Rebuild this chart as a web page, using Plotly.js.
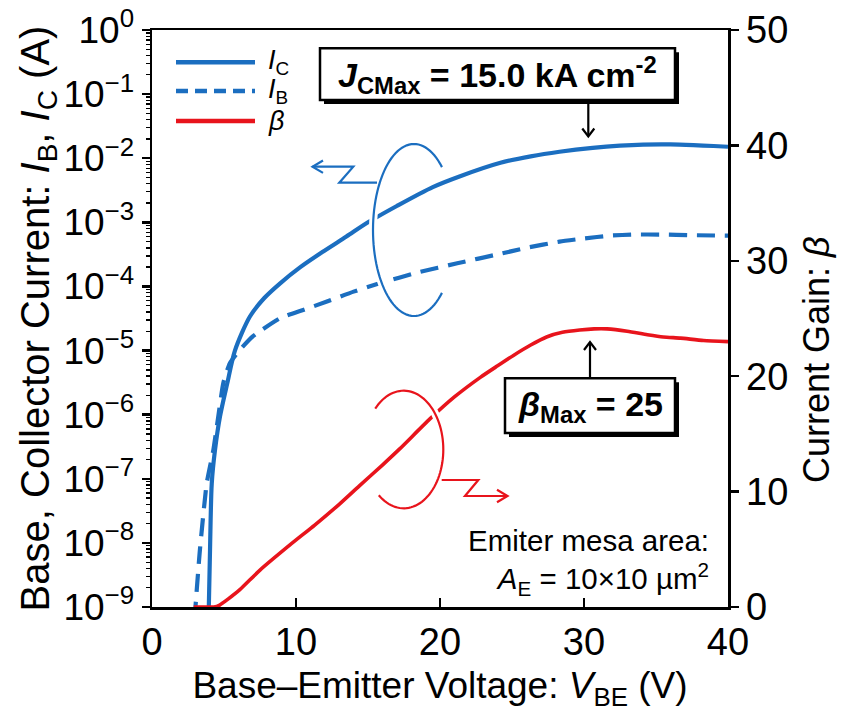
<!DOCTYPE html>
<html><head><meta charset="utf-8">
<script src="https://cdn.plot.ly/plotly-3.0.1.min.js"></script>
<style>html,body{margin:0;padding:0;background:#fff;}#chart{width:843px;height:719px;}</style>
</head><body><div id="chart"></div>
<script>
// ---- data ----
const vIC = [3.9, 4.03, 4.15, 4.375, 4.72, 5.23, 5.76, 6.8, 7.8, 8.9, 10.3, 11.8, 13.5, 15, 17, 19.5, 21.4, 24.2, 26.3, 28.3, 30.6, 32.5, 34.1, 36, 37.6, 39, 40];
const iC  = [3.2e-10, 7.9e-9, 8.5e-8, 2.8e-7, 9.3e-7, 3.1e-6, 1.0e-5, 3.4e-5, 6.6e-5, 1.12e-4, 2.0e-4, 3.4e-4, 6.0e-4, 1.0e-3, 1.8e-3, 3.55e-3, 5.25e-3, 8.5e-3, 1.07e-2, 1.26e-2, 1.45e-2, 1.57e-2, 1.63e-2, 1.64e-2, 1.60e-2, 1.55e-2, 1.51e-2];
const vIB = [2.95, 3.33, 3.8, 4.26, 4.6, 4.95, 5.4, 6.1, 7.0, 8.9, 10.5, 12.1, 14, 15.8, 18.5, 21.2, 24, 26, 28.3, 30, 31.8, 33.5, 35.3, 37.5, 40];
const iB  = [6.3e-10, 7.9e-9, 8.5e-8, 2.8e-7, 9.3e-7, 3.1e-6, 6.3e-6, 1.02e-5, 1.66e-5, 3.2e-5, 4.3e-5, 5.75e-5, 8.3e-5, 1.12e-4, 1.66e-4, 2.3e-4, 3.16e-4, 4.0e-4, 5.0e-4, 5.6e-4, 6.2e-4, 6.45e-4, 6.45e-4, 6.3e-4, 6.2e-4];
const vBeta = [2.9, 3.5, 4.3, 4.7, 5.3, 6.1, 7.5, 9.6, 11.3, 13, 14.4, 16, 17.2, 19.3, 21, 22.8, 24, 25.1, 26.3, 27.4, 28.5, 29.7, 30.7, 31.6, 33, 34.4, 35.5, 36.7, 38.3, 40];
const beta  = [0, 0, 0, 0.17, 0.7, 1.5, 3.2, 5.4, 7.1, 8.9, 10.5, 12.3, 13.7, 16.3, 18.2, 19.9, 20.9, 21.8, 22.7, 23.4, 23.8, 24.0, 24.1, 24.1, 23.9, 23.6, 23.4, 23.3, 23.1, 23.0];
const yTickVals = [1e0, 1e-1, 1e-2, 1e-3, 1e-4, 1e-5, 1e-6, 1e-7, 1e-8, 1e-9];
const yTickText = ['10<sup>0</sup>', '10<sup>−1</sup>', '10<sup>−2</sup>', '10<sup>−3</sup>', '10<sup>−4</sup>', '10<sup>−5</sup>', '10<sup>−6</sup>', '10<sup>−7</sup>', '10<sup>−8</sup>', '10<sup>−9</sup>'];

// ---- styling / layout ----
const BLUE = '#1B6EC0', RED = '#E8141C';
const FONT = 'Liberation Sans, Arial, sans-serif';
const L = 152, T = 30, W = 576, H = 577;
const px = x => (x - L) / W;
const py = y => (T + H - y) / H;
function poly(pts) { return 'M' + pts.map(p => px(p[0]).toFixed(5) + ',' + py(p[1]).toFixed(5)).join('L'); }
function arc(cx, cy, rx, ry, a0, a1) {
  const pts = []; const n = 80;
  for (let i = 0; i <= n; i++) { const t = (a0 + (a1 - a0) * i / n) * Math.PI / 180; pts.push([cx + rx * Math.cos(t), cy + ry * Math.sin(t)]); }
  return poly(pts);
}
const P = (path, color, width, dash) => ({type: 'path', xref: 'paper', yref: 'paper', path: path, layer: 'above', line: {color: color, width: width, dash: dash || 'solid'}});
const R = (x0, y0, x1, y1, fill, lc, lw) => ({type: 'rect', xref: 'paper', yref: 'paper', x0: px(x0), x1: px(x1), y0: py(y1), y1: py(y0), layer: 'above', fillcolor: fill, line: {color: lc, width: lw}});

const blueArc = arc(414, 230, 41, 86, -47, -313);
const redArc = arc(403.7, 449.5, 39.6, 58.8, -136, 129);
const shapes = [
  P(blueArc, 'white', 8), P(blueArc, BLUE, 2.2),
  P(redArc, 'white', 8), P(redArc, RED, 2.2),
  P(poly([[377, 182.7], [339.3, 182.7], [353.3, 166.7], [312.5, 166.7]]), BLUE, 2.2),
  P(poly([[323, 160.5], [312.5, 166.7], [323, 172.9]]), BLUE, 2.2),
  P(poly([[441.7, 480], [478.3, 480], [465, 496], [507.5, 496]]), RED, 2.2),
  P(poly([[497, 489.8], [507.5, 496], [497, 502.2]]), RED, 2.2),
  // annotation boxes with shadow
  R(324, 52.3, 679, 104, 'black', 'black', 0), R(320, 48.3, 675, 100, 'white', 'black', 2.5),
  R(509, 382.3, 679, 437, 'black', 'black', 0), R(505, 378.3, 675, 433, 'white', 'black', 2.5),
  // pointer arrows
  P(poly([[588.3, 101], [588.3, 136]]), 'black', 2.2),
  P(poly([[582.3, 128.5], [588.3, 136.5], [594.3, 128.5]]), 'black', 2.2),
  P(poly([[590, 377], [590, 342.5]]), 'black', 2.2),
  P(poly([[584, 350], [590, 342], [596, 350]]), 'black', 2.2),
  // legend samples
  P(poly([[176, 62.3], [255, 62.3]]), BLUE, 4.5),
  P(poly([[176, 91], [255, 91]]), BLUE, 4.5, '12px,7px'),
  P(poly([[176, 121], [255, 121]]), RED, 4.5)
];

const ann = (x, y, text, size, xanchor, extra) => Object.assign({xref: 'paper', yref: 'paper', x: px(x), y: py(y), text: text, showarrow: false, xanchor: xanchor || 'center', yanchor: 'middle', font: {family: FONT, size: size, color: 'black'}}, extra || {});
const annotations = [
  ann(497.5, 74.5, '<b><i>J</i><sub>CMax</sub> = 15.0 kA cm<sup>-2</sup></b>', 34),
  ann(590, 406, '<b><i>β</i><sub>Max</sub> = 25</b>', 34),
  ann(266, 62, '<i>I</i><sub>C</sub>', 27, 'left'),
  ann(266, 91, '<i>I</i><sub>B</sub>', 27, 'left'),
  ann(266, 121, '<i>β</i>', 27, 'left'),
  ann(711, 562, 'Emiter mesa area:<br><i>A</i><sub>E</sub> = 10×10 µm<sup>2</sup>', 29.5, 'right', {align: 'right'}),
  ann(816, 360, 'Current Gain: <i>β</i>', 36, 'center', {textangle: -90})
];

const traces = [
  {x: vIB, y: iB, mode: 'lines', line: {color: BLUE, width: 4.2, dash: '18px,10px', shape: 'spline', smoothing: 0.5}, yaxis: 'y', name: 'IB'},
  {x: vIC, y: iC, mode: 'lines', line: {color: BLUE, width: 4.2, shape: 'spline', smoothing: 0.8}, yaxis: 'y', name: 'IC'},
  {x: vBeta, y: beta, mode: 'lines', line: {color: RED, width: 3.6, shape: 'spline', smoothing: 0.6}, yaxis: 'y2', name: 'beta'}
];

const layout = {
  width: 843, height: 719,
  margin: {l: L, r: 843 - L - W, t: T, b: 719 - T - H},
  paper_bgcolor: 'white', plot_bgcolor: 'white',
  showlegend: false,
  font: {family: FONT, size: 38, color: 'black'},
  xaxis: {range: [0, 40], dtick: 10, tick0: 0, ticks: 'inside', ticklen: 9, tickwidth: 2.5, tickcolor: 'black',
    showline: true, linecolor: 'black', linewidth: 2.5, mirror: true, showgrid: false, zeroline: false,
    tickfont: {family: FONT, size: 38},
    title: {text: 'Base–Emitter Voltage: <i>V</i><sub>BE</sub> (V)', font: {family: FONT, size: 37}, standoff: 10}},
  yaxis: {type: 'log', range: [-9, 0], tickmode: 'array', tickvals: yTickVals, ticktext: yTickText,
    ticks: 'outside', ticklen: 8, tickwidth: 2.5, tickcolor: 'black',
    minor: {ticks: 'outside', ticklen: 4, tickwidth: 1.3, tickcolor: 'black', dtick: 'D1', showgrid: false},
    showline: true, linecolor: 'black', linewidth: 2.5, showgrid: false, zeroline: false,
    tickfont: {family: FONT, size: 37},
    title: {text: 'Base, Collector Current: <i>I</i><sub>B</sub>, <i>I</i><sub>C</sub> (A)', font: {family: FONT, size: 40}, standoff: 2}},
  yaxis2: {overlaying: 'y', side: 'right', range: [0, 50], dtick: 10, tick0: 0,
    ticks: 'outside', ticklen: 8, tickwidth: 2.5, tickcolor: 'black',
    showline: true, linecolor: 'black', linewidth: 2.5, showgrid: false, zeroline: false,
    tickfont: {family: FONT, size: 38}},
  shapes: shapes,
  annotations: annotations
};
Plotly.newPlot('chart', traces, layout, {displayModeBar: false, staticPlot: true});
</script></body></html>
